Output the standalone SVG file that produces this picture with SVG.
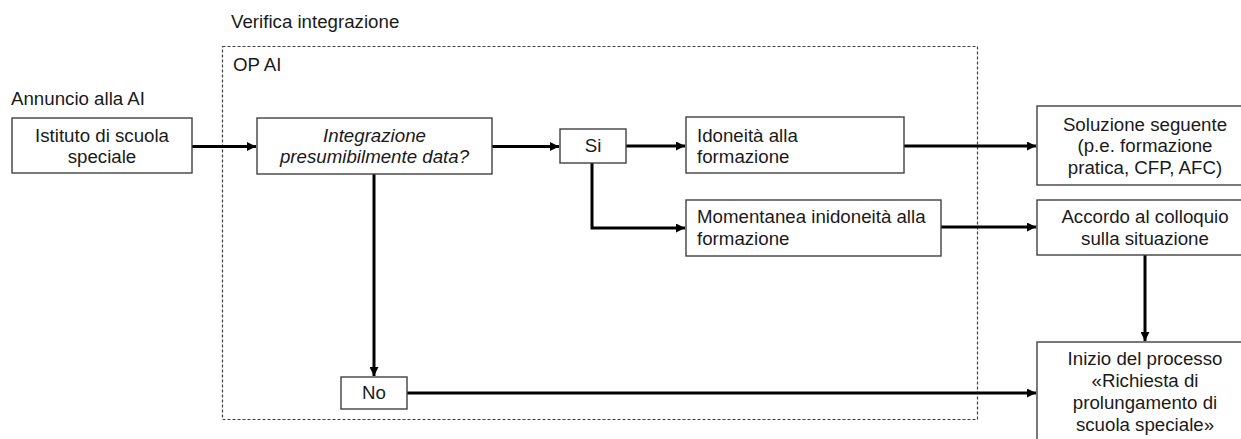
<svg xmlns="http://www.w3.org/2000/svg" width="1241" height="439" viewBox="0 0 1241 439">
<style>
text{font-family:"Liberation Sans",Arial,sans-serif;font-size:18.7px;fill:#1a1a1a}
.c{text-anchor:middle}
.box{fill:#fff;stroke:#404040;stroke-width:1.4}
.conn{fill:none;stroke:#000;stroke-width:3}
.frame{fill:none;stroke:#404040;stroke-width:1.2;stroke-dasharray:3 2}
</style>
<defs>
<marker id="ah" viewBox="0 0 10 10" refX="10" refY="5" markerWidth="10" markerHeight="9" markerUnits="userSpaceOnUse" orient="auto">
<path d="M0,0 L10,5 L0,10 z" fill="#000"/>
</marker>
</defs>
<rect width="1241" height="439" fill="#fff"/>
<g id="labels">
<text x="231" y="28">Verifica integrazione</text>
<text x="11" y="105">Annuncio alla AI</text>
</g>
<g id="frame">
<rect class="frame" x="222.5" y="46.5" width="755" height="373"/>
<text x="233" y="71">OP AI</text>
</g>
<g id="connectors">
<path class="conn" d="M192,146.5 H256" marker-end="url(#ah)"/>
<path class="conn" d="M492,146.5 H559" marker-end="url(#ah)"/>
<path class="conn" d="M626,146 H685" marker-end="url(#ah)"/>
<path class="conn" d="M592,163 V228 H685" marker-end="url(#ah)"/>
<path class="conn" d="M904,146 H1036" marker-end="url(#ah)"/>
<path class="conn" d="M941,227 H1036" marker-end="url(#ah)"/>
<path class="conn" d="M1145,255 V341" marker-end="url(#ah)"/>
<path class="conn" d="M374,174 V376" marker-end="url(#ah)"/>
<path class="conn" d="M407,393 H1036" marker-end="url(#ah)"/>
</g>
<g id="n-istituto">
<rect class="box" x="12" y="118" width="180" height="55"/>
<text class="c" x="102" y="142">Istituto di scuola</text>
<text class="c" x="102" y="163">speciale</text>
</g>
<g id="n-integrazione">
<rect class="box" x="257" y="118" width="235" height="56"/>
<text class="c" x="374.5" y="142" font-style="italic">Integrazione</text>
<text class="c" x="374.5" y="163" font-style="italic">presumibilmente data?</text>
</g>
<g id="n-si">
<rect class="box" x="560" y="129" width="66" height="34"/>
<text class="c" x="593" y="152">Si</text>
</g>
<g id="n-idoneita">
<rect class="box" x="686" y="117" width="218" height="56"/>
<text x="697" y="142">Idoneità alla</text>
<text x="697" y="163">formazione</text>
</g>
<g id="n-momentanea">
<rect class="box" x="686" y="200" width="255" height="56"/>
<text x="697" y="223">Momentanea inidoneità alla</text>
<text x="697" y="245">formazione</text>
</g>
<g id="n-soluzione">
<rect class="box" x="1037" y="106" width="216" height="79"/>
<text class="c" x="1145" y="130.5">Soluzione seguente</text>
<text class="c" x="1145" y="152">(p.e. formazione</text>
<text class="c" x="1145" y="173.5">pratica, CFP, AFC)</text>
</g>
<g id="n-accordo">
<rect class="box" x="1037" y="200" width="216" height="55"/>
<text class="c" x="1145" y="223">Accordo al colloquio</text>
<text class="c" x="1145" y="244.5">sulla situazione</text>
</g>
<g id="n-inizio">
<rect class="box" x="1037" y="342" width="216" height="110"/>
<text class="c" x="1145" y="365">Inizio del processo</text>
<text class="c" x="1145" y="387">«Richiesta di</text>
<text class="c" x="1145" y="409">prolungamento di</text>
<text class="c" x="1145" y="431">scuola speciale»</text>
</g>
<g id="n-no">
<rect class="box" x="341" y="377" width="66" height="32"/>
<text class="c" x="374" y="399">No</text>
</g>
</svg>
